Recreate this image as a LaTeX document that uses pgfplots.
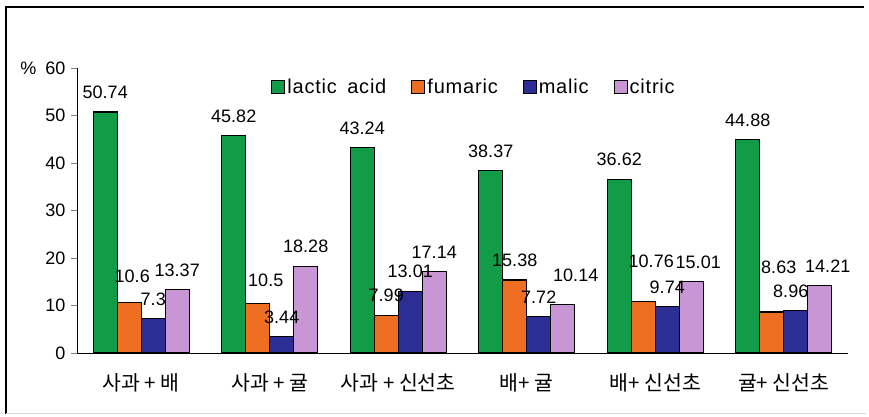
\documentclass[border=0pt]{standalone}
\usepackage{fontspec}
\setmainfont{Liberation Sans}
\newfontfamily\kr{Noto Sans CJK KR}
\usepackage{pgfplots}
\usepackage{pgfplotstable}
\pgfplotsset{compat=1.18}
\definecolor{cgreen}{RGB}{18,156,72}
\definecolor{corange}{RGB}{238,110,34}
\definecolor{cblue}{RGB}{44,46,150}
\definecolor{clilac}{RGB}{200,150,212}
% x  y  label  dx  dy (label shift in pt)
\pgfplotstableread{
x y lbl dx dy
0 50.74 50.74 0 12.5
1 45.82 45.82 0 12.5
2 43.24 43.24 0 12.5
3 38.37 38.37 0 12.5
4 36.62 36.62 0 12.5
5 44.88 44.88 0 12.5
}\lactic
\pgfplotstableread{
x y lbl dx dy
0 10.6 10.6 3 19
1 10.5 10.5 8 16
2 7.99 7.99 0 12.5
3 15.38 15.38 0 12.5
4 10.76 10.76 8 34
5 8.63 8.63 7 38
}\fumaric
\pgfplotstableread{
x y lbl dx dy
0 7.3 7.3 0 12.5
1 3.44 3.44 0 12.5
2 13.01 13.01 0 12.5
3 7.72 7.72 0 12.5
4 9.74 9.74 0 12.5
5 8.96 8.96 -5 12.5
}\malic
\pgfplotstableread{
x y lbl dx dy
0 13.37 13.37 0 12.5
1 18.28 18.28 0 12.5
2 17.14 17.14 0 12.5
3 10.14 10.14 13 23
4 15.01 15.01 7 12.5
5 14.21 14.21 8 12.5
}\citric
\begin{document}
\begin{tikzpicture}
\path[use as bounding box] (0pt,0pt) rectangle (869pt,416pt);
\draw[line width=1.2pt] (6pt,2pt) -- (6pt,409pt) -- (864pt,409pt);
\draw[black!15, line width=1pt] (6pt,3pt) -- (866pt,3pt);
\begin{axis}[
  at={(77pt,63pt)}, anchor=south west,
  scale only axis, width=771pt, height=285pt,
  ybar=0pt, bar width=24pt,
  xmin=-0.5, xmax=5.5, ymin=0, ymax=60,
  axis x line*=bottom, axis y line*=left,
  axis line style={line width=0.9pt},
  ytick={0,10,...,60},
  ytick align=outside, major tick length=6pt,
  y tick style={line width=0.9pt},
  yticklabel style={font=\fontsize{18}{20}\selectfont, xshift=-2pt},
  /pgf/number format/assume math mode=true,
  xtick={0,1,2,3,4,5},
  xticklabels={사과 + 배, 사과 + 귤, 사과 + 신선초, 배+ 귤, 배+ 신선초, 귤+ 신선초},
  xticklabel style={font=\kr\fontsize{20.5}{22}\selectfont, yshift=-11pt},
  x tick style={draw=none},
  extra x ticks={0.5,1.5,2.5,3.5,4.5,5.5},
  extra x tick labels={},
  extra x tick style={tick align=inside, major tick length=6pt, tick style={draw=black, line width=0.9pt}},
  point meta=explicit symbolic,
  nodes near coords={\pgfplotspointmeta},
  nodes near coords style={font=\fontsize{18}{20}\selectfont, anchor=south, inner sep=0pt},
  lblshift/.style={
    visualization depends on={\thisrow{dx} \as \mydx},
    visualization depends on={\thisrow{dy} \as \mydy},
    every node near coord/.append style={xshift=\mydx, yshift=\mydy}},
  every axis plot/.append style={draw=black, line width=1.1pt},
  legend style={at={(0.515,0.975)}, anchor=north, draw=none, fill=none,
    legend columns=-1, font=\fontsize{20}{22}\selectfont\addfontfeatures{LetterSpace=4},
    /tikz/every even column/.append style={column sep=23pt}},
  legend image code/.code={\draw[#1, draw=black, line width=1pt] (-3pt,-6.5pt) rectangle (10pt,6.5pt);},
  clip=false,
]
\addplot[fill=cgreen, lblshift] table[x=x, y=y, meta=lbl] {\lactic};
\addplot[fill=corange, lblshift] table[x=x, y=y, meta=lbl] {\fumaric};
\addplot[fill=cblue, lblshift] table[x=x, y=y, meta=lbl] {\malic};
\addplot[fill=clilac, lblshift] table[x=x, y=y, meta=lbl] {\citric};
\legend{lactic\hspace{4pt} acid, fumaric, malic, citric}
\node[font=\fontsize{18}{20}\selectfont, anchor=east] at ([xshift=-37pt]rel axis cs:0,1) {\%};
\end{axis}
\end{tikzpicture}
\end{document}
